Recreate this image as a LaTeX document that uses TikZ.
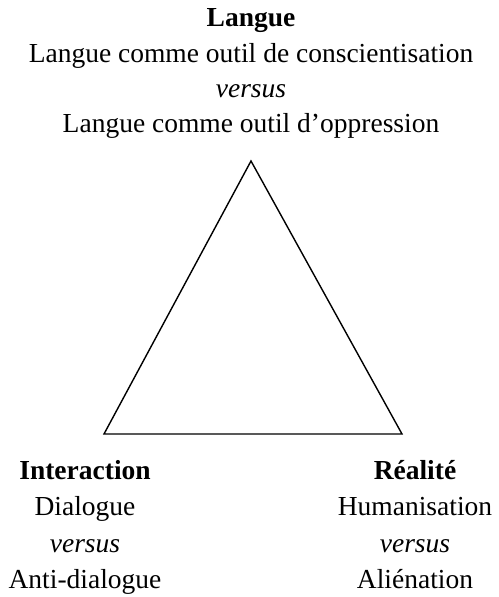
\documentclass[tikz,border=0pt]{standalone}
\usepackage{fontspec}
\setmainfont{Liberation Serif}
\begin{document}
\begin{tikzpicture}[x=1pt,y=-1pt,
  lbl/.style={font=\fontsize{27.5}{32}\selectfont, anchor=base, inner sep=0pt},
  tri/.style={draw=black, line width=1.4pt, line join=miter}]
\useasboundingbox (0,0) rectangle (498,597);
% top text
\node[lbl] (t1) at (251,26) {\textbf{Langue}};
\node[lbl] (t2) at (251,62) {Langue comme outil de conscientisation};
\node[lbl] (t3) at (251,97) {\textit{versus}};
\node[lbl] (t4) at (251,132) {Langue comme outil d’oppression};
% triangle
\coordinate (A) at (251,161);
\coordinate (B) at (104,434);
\coordinate (C) at (402,434);
\draw[tri] (A) -- (B) -- (C) -- cycle;
% bottom left
\node[lbl] (l1) at (85,479) {\textbf{Interaction}};
\node[lbl] (l2) at (85,515) {Dialogue};
\node[lbl] (l3) at (85,552) {\textit{versus}};
\node[lbl] (l4) at (85,588) {Anti-dialogue};
% bottom right
\node[lbl] (r1) at (415,479) {\textbf{Réalité}};
\node[lbl] (r2) at (415,515) {Humanisation};
\node[lbl] (r3) at (415,552) {\textit{versus}};
\node[lbl] (r4) at (415,588) {Aliénation};
\end{tikzpicture}
\end{document}
